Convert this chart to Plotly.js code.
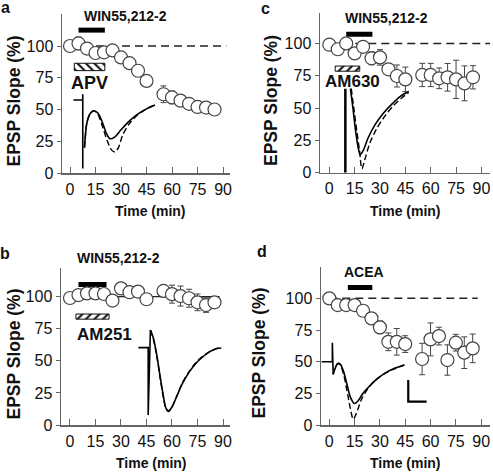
<!DOCTYPE html>
<html><head><meta charset="utf-8">
<script src="https://cdn.plot.ly/plotly-3.0.1.min.js"></script>
<style>body{margin:0;padding:0;background:#fff}#chart{width:493px;height:474px}</style>
</head><body><div id="chart"></div>
<script>
// ---------- data ----------
const time = [0,5,10,15,20,25,30,35,40,45,55,60,65,70,75,80,85];
const slopeA = [100,102,98,94.5,95,96.5,91,86.5,80.5,72.5,62,59.5,57,54.5,52,51.5,50];
const errA   = [1.5,5,2,2,2,2,2,2,2,2,6.6,5,2,2,2,2,2];
const slopeB = [99,101.3,102.6,102.6,102.1,97,106.5,103.5,104,98,104.5,102,100.5,98.8,95.6,93.5,95.6];
const errB   = [2,2,2,2,2,2,4,3,3,2,4.4,7,7.8,7,6.5,5.7,3];
const slopeC = [99,95.5,100,92.3,97.4,88.5,89.2,80,74.8,72.2,75.6,75.6,73,73.8,72.2,69.1,73.8];
const errC   = [1,2,2,3,3,5,6,4,8.5,9.5,9,9,8,10.7,14.8,13.5,9];
const slopeD = [100,94.7,94.7,94.7,90.2,84.2,77.1,65.7,65.7,63.9,52.1,67.6,70.2,51.3,65,57.1,60.5];
const errD   = [1,2,2,2,3,3,5,7,10.5,6.6,12.4,13,7,12,6.6,12.5,11.3];

const xTicks = [0,15,30,45,60,75,90];
const yTicks = [0,25,50,75,100];

// drug application bars [start, end, level]
const drugA = [5, 20.5, 112.5];
const drugB = [5, 21.5, 109.5];
const drugC = [10, 25.5, 107];
const drugD = [11, 25.5, 108.5];
// antagonist (hatched) bars [start, end, centre, thickness]
const antA = [2.5, 20.5, 83.5, 5.8];
const antB = [3.5, 23, 84.5, 4];
const antC = [3.5, 18, 80.5, 4];
// baseline reference lines [start, end]
const refA = [0, 92];
const refB = [-3, 88];
const refC = [0, 96];
const refD = [0, 88];

// EPSP inset traces (x in min-axis units, y in %-axis units)
const stimAx = [2,7.5,7.5,7.5], stimAy = [57.5,57.5,62,3.5];
const ctrlAx = [8.5,10,12,14,16.5,19,21.5,23.5,26,30,35,40,45,50];
const ctrlAy = [20,40,47,49,47,40,31,27,28,34,41,46.5,50.5,53.5];
const drugAx = [8.5,10,12,14,16.5,19,22,24.5,26.5,28.5,31,35,40,45,50];
const drugAy = [20,40,47,49,46,37,25,18,16.5,20,30,39,46,50.5,53.5];

const stimBx = [40.2,46,46,47.3], stimBy = [60.3,60.3,7.8,74];
const ctrlBx = [47.3,49,51,53,55,56.5,58,60,63,66,70,74,78,82,86,89];
const ctrlBy = [74,68,55,38,22,13,11,14,23,32,41,48,53,57,59.5,60];
const drugBx = [47.3,49,51,53,55,56.5,58,60,63,66,70,74,78,82,86,89];
const drugBy = [74,67,54,37,21,12.5,10.5,14,23,32.5,41.5,48.5,53.5,57,59.5,60.3];

const stimCx = [9.5,9.5], stimCy = [0,65];
const ctrlCx = [12.5,14,15.5,17,18.3,20,23,27,32,37,42,47];
const ctrlCy = [65,50,33,20,14,17,27,37,46,53,59,63];
const drugCx = [13,14.5,16.2,17.8,19.3,21,24,28,33,38,43,47];
const drugCy = [65,50,33,18,3,10,23,34,44,52,58,62];

const stimDx = [-4.5,1.8,1.8,2.3], stimDy = [50,50,65,40];
const ctrlDx = [2.3,3.5,5,6.5,8.5,10.5,12.5,14.8,17,20,24,28,33,38,44.5];
const ctrlDy = [40,45,48.5,48,42,32,22,17,19,25,31,36,41,44.5,47.4];
const drugDx = [2.3,3.5,5,6.5,8.5,10.5,12.5,14.2,16,19,23,27,32,38,44.5];
const drugDy = [40,45,48.5,47.5,40,27,13,4.5,9,20,29,35,40,44,47.4];
const scaleDx = [46.8,46.8,57.7], scaleDy = [35.5,18.4,18.4];

// ---------- build ----------
const W = 493, H = 474;
const FONT = '"Liberation Sans", Arial, Helvetica, sans-serif';
const AX = '#666';
const traces = [];

function addPanel(k, slope, err, drug, ant, pattern, ref, refDash, ins) {
  const xa = 'x' + (k === 1 ? '' : k), ya = 'y' + (k === 1 ? '' : k);
  traces.push({x: ref, y: [100, 100], xaxis: xa, yaxis: ya, mode: 'lines',
    line: {color: '#222', width: refDash ? 1.5 : 1.2, dash: refDash ? '8px,5px' : 'solid'}, hoverinfo: 'skip'});
  ins.forEach(t => traces.push({x: t[0], y: t[1], xaxis: xa, yaxis: ya, mode: 'lines',
    line: {color: '#000', width: t[3] || 1.6, dash: t[2] ? '6px,3px' : 'solid', shape: t[4] ? 'spline' : 'linear', smoothing: 0.8},
    hoverinfo: 'skip'}));
  traces.push({x: [drug[0], drug[1]], y: [drug[2], drug[2]], xaxis: xa, yaxis: ya, mode: 'lines',
    line: {color: '#000', width: 5}, hoverinfo: 'skip'});
  if (ant) traces.push({type: 'bar', orientation: 'h', x: [ant[1] - ant[0]], base: [ant[0]], y: [ant[2]],
    width: [ant[3]], xaxis: xa, yaxis: ya,
    marker: {color: 'white', line: {color: '#111', width: 1},
      pattern: {shape: pattern, fgcolor: '#111', bgcolor: 'white', size: 6, solidity: 0.35}}, hoverinfo: 'skip'});
  traces.push({x: time, y: slope, xaxis: xa, yaxis: ya, mode: 'markers',
    error_y: {type: 'data', array: err, color: '#444', thickness: 1, width: 3},
    marker: {symbol: 'circle', size: 13, color: 'white', line: {color: '#444', width: 1.2}}});
}

addPanel(1, slopeA, errA, drugA, antA, '\\', refA, true, [
  [stimAx, stimAy, false, 1.6, false], [ctrlAx, ctrlAy, false, 1.6, true], [drugAx, drugAy, true, 1.4, true]]);
addPanel(2, slopeC, errC, drugC, antC, '/', refC, true, [
  [stimCx, stimCy, false, 2.5, false], [ctrlCx, ctrlCy, false, 1.6, true], [drugCx, drugCy, true, 1.4, true]]);
addPanel(3, slopeB, errB, drugB, antB, '/', refB, false, [
  [stimBx, stimBy, false, 1.6, false], [ctrlBx, ctrlBy, false, 1.6, true], [drugBx, drugBy, true, 1.4, true]]);
addPanel(4, slopeD, errD, drugD, null, '', refD, true, [
  [stimDx, stimDy, false, 1.6, false], [ctrlDx, ctrlDy, false, 1.6, true], [drugDx, drugDy, true, 1.4, true],
  [scaleDx, scaleDy, false, 2.2, false]]);

function xAx(p0, p1, r0, r1, anchor) {
  return {domain: [p0 / W, p1 / W], range: [r0, r1], anchor: anchor, tickvals: xTicks,
    ticks: 'inside', ticklen: 6, tickwidth: 1, tickcolor: AX, showline: true, linecolor: AX, linewidth: 1.5,
    showgrid: false, zeroline: false, ticklabelstandoff: 1, tickfont: {family: FONT, size: 16, color: '#111'}, fixedrange: true};
}
function yAx(pb, pt, r1, anchor) {
  return {domain: [1 - pb / H, 1 - pt / H], range: [0, r1], anchor: anchor, tickvals: yTicks,
    ticks: 'outside', ticklen: 4, tickwidth: 1, tickcolor: AX, showline: true, linecolor: AX, linewidth: 1.5,
    showgrid: false, zeroline: false, tickfont: {family: FONT, size: 16, color: '#111'}, fixedrange: true};
}

function ann(text, px, py, size, bold, angle) {
  return {text: bold ? '<b>' + text + '</b>' : text, xref: 'paper', yref: 'paper', x: px / W, y: 1 - py / H,
    xanchor: 'center', yanchor: 'middle', showarrow: false, textangle: angle || 0,
    font: {family: FONT, size: size, color: '#111'}};
}

const layout = {
  width: W, height: H, margin: {l: 0, r: 0, t: 0, b: 0}, showlegend: false,
  paper_bgcolor: 'white', plot_bgcolor: 'rgba(0,0,0,0)',
  xaxis: xAx(62, 230, -4.71, 94.1, 'y'),   yaxis: yAx(173, 14, 125.2, 'x'),
  xaxis2: xAx(320, 490, -5.5, 95.09, 'y2'), yaxis2: yAx(172.7, 13.3, 123.3, 'x2'),
  xaxis3: xAx(61, 230, -5.29, 94.12, 'y3'), yaxis3: yAx(425, 267.7, 122.6, 'x3'),
  xaxis4: xAx(321, 490, -4.92, 95.26, 'y4'), yaxis4: yAx(425, 266.7, 125, 'x4'),
  annotations: [
    ann('a', 5, 7.5, 16, true), ann('c', 265.5, 8, 16, true),
    ann('b', 5, 253, 16, true), ann('d', 262, 252, 16, true),
    ann('WIN55,212-2', 125, 15.7, 14, true), ann('WIN55,212-2', 386, 18.3, 14, true),
    ann('WIN55,212-2', 118.7, 258.3, 14, true), ann('ACEA', 363.7, 271.7, 14, true),
    ann('APV', 89.7, 83.3, 18, true), ann('AM630', 352.3, 81.7, 17, true), ann('AM251', 104.3, 334, 17, true),
    ann('EPSP Slope (%)', 13.5, 101, 17.5, true, -90), ann('EPSP Slope (%)', 271, 101, 17.5, true, -90),
    ann('EPSP Slope (%)', 13.5, 354, 17.5, true, -90), ann('EPSP Slope (%)', 258.5, 353, 17.5, true, -90),
    ann('Time (min)', 150, 211, 14, true), ann('Time (min)', 405, 211, 14, true),
    ann('Time (min)', 151.7, 462.7, 14, true), ann('Time (min)', 405, 463.3, 14, true)
  ]
};

Plotly.newPlot('chart', traces, layout, {staticPlot: true, displayModeBar: false});
</script>
</body></html>
